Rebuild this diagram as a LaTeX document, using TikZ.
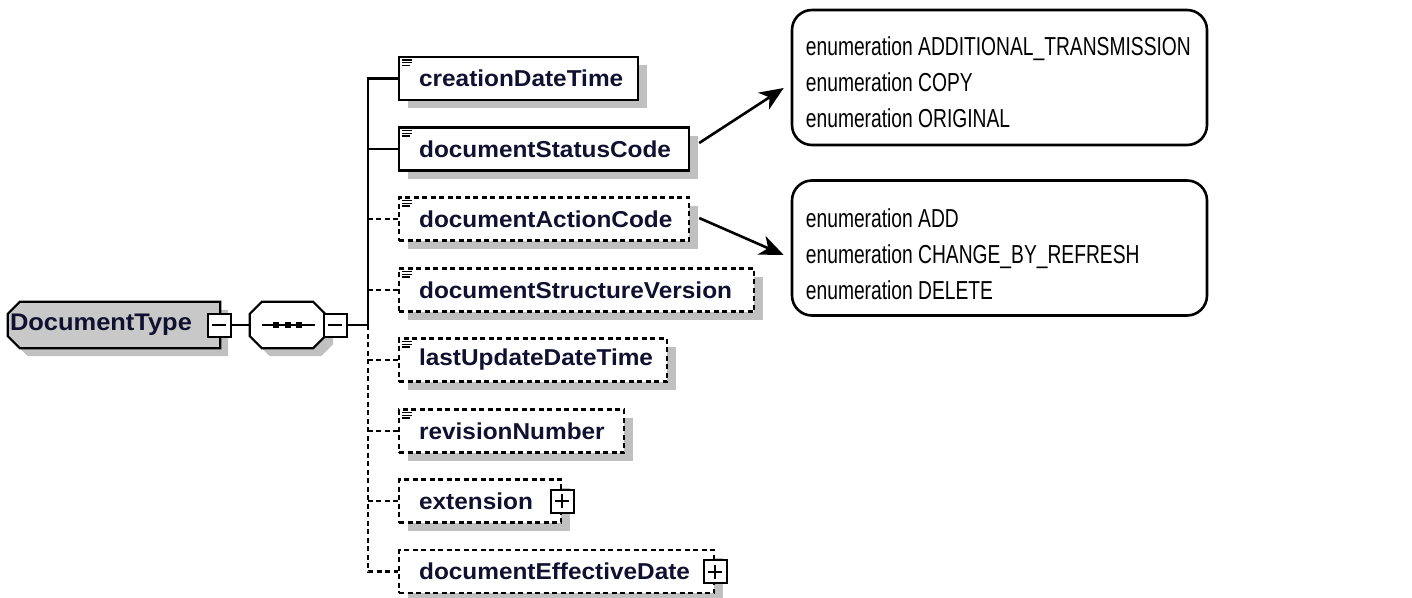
\documentclass[tikz,border=0pt]{standalone}
\usepackage{fontspec}
\usepackage{graphicx}
\setmainfont{Liberation Sans}
\newfontfamily\elfont[FakeStretch=1.06]{Liberation Sans}
\newfontfamily\enfont[FakeStretch=0.74]{Liberation Sans}
\usetikzlibrary{calc,shadows,arrows.meta}
\definecolor{txt}{RGB}{16,16,48}
\definecolor{shd}{RGB}{192,192,192}
\definecolor{tfill}{RGB}{200,200,200}
\begin{document}
\begin{tikzpicture}[x=1pt,y=-1pt,
  conn/.style={line width=2.2pt},
  dconn/.style={line width=2.2pt, dash pattern=on 5pt off 3.5pt},
  elbox/.style={draw, line width=2.2pt, fill=white, anchor=west, minimum height=43pt,
    inner xsep=0pt, inner ysep=0pt, align=left,
    font=\elfont\bfseries\fontsize{23}{26}\selectfont, text=txt,
    drop shadow={shadow xshift=9pt, shadow yshift=-8pt, fill=shd, opacity=1}},
  optbox/.style={elbox, dash pattern=on 5pt off 3.5pt},
  pm/.style={draw, fill=white, line width=2pt, minimum width=23pt, minimum height=23pt, inner sep=0pt},
  enbox/.style={draw, line width=2.6pt, rounded corners=20pt, minimum width=415pt,
    minimum height=135pt, inner sep=0pt},
  entext/.style={anchor=west, align=left, inner sep=0pt, font=\enfont\fontsize{26}{36}\selectfont},
  arr/.style={line width=2.6pt, -{Stealth[length=24pt,width=20pt,inset=7pt]}},
  icon/.style={line width=1.3pt}
]
\useasboundingbox (0,0) rectangle (1412,597);

% ---------- DocumentType ----------
\node[minimum width=212pt, minimum height=46pt, inner sep=0pt] (dt) at (114,325) {};
\fill[shd] ($(dt.north west)+(20,8)$) -- ($(dt.north east)+(8,8)$) -- ($(dt.south east)+(8,8)$)
  -- ($(dt.south west)+(20,8)$) -- ($(dt.south west)+(8,-4)$) -- ($(dt.north west)+(8,20)$) -- cycle;
\draw[line width=2.2pt, fill=tfill] ($(dt.north west)+(12,0)$) -- (dt.north east) -- (dt.south east)
  -- ($(dt.south west)+(12,0)$) -- ($(dt.south west)+(0,-12)$) -- ($(dt.north west)+(0,12)$) -- cycle;
\node[font=\elfont\bfseries\fontsize{24}{26}\selectfont, text=txt, inner sep=0pt] (dtl) at (101,325) {DocumentType};

% ---------- sequence ----------
\node[minimum width=75pt, minimum height=46pt, inner sep=0pt] (seq) at (287.5,325) {};
\fill[shd] ($(seq.north west)+(20,8)$) -- ($(seq.north east)+(-4,8)$) -- ($(seq.north east)+(8,20)$)
  -- ($(seq.south east)+(8,-4)$) -- ($(seq.south east)+(-4,8)$) -- ($(seq.south west)+(20,8)$)
  -- ($(seq.south west)+(8,-4)$) -- ($(seq.north west)+(8,20)$) -- cycle;
\draw[line width=2.2pt, fill=white] ($(seq.north west)+(12,0)$) -- ($(seq.north east)+(-12,0)$)
  -- ($(seq.north east)+(0,12)$) -- ($(seq.south east)+(0,-12)$) -- ($(seq.south east)+(-12,0)$)
  -- ($(seq.south west)+(12,0)$) -- ($(seq.south west)+(0,-12)$) -- ($(seq.north west)+(0,12)$) -- cycle;
\draw[line width=2.2pt] ($(seq.west)+(12,0)$) -- ($(seq.east)+(-10,0)$);
\foreach \dx in {-11.5,0,11.5} \fill ($(seq.center)+(\dx-3,-3)$) rectangle +(6,6);

% ---------- minus boxes ----------
\node[pm] (m1) at (219,325) {};
\draw[line width=2pt] ($(m1.center)+(-7,0)$) -- ($(m1.center)+(7,0)$);
\node[pm] (m2) at (335,325) {};
\draw[line width=2pt] ($(m2.center)+(-7,0)$) -- ($(m2.center)+(7,0)$);
\coordinate (j) at (368,325);

% ---------- children ----------
\node[elbox, text width=239pt] (cdt) at (398,78.5) {\hspace*{20pt}creationDateTime};
\node[elbox, text width=290pt] (dsc) at (398,149) {\hspace*{20pt}documentStatusCode};
\node[optbox, text width=290pt] (dac) at (398,219) {\hspace*{20pt}documentActionCode};
\node[optbox, text width=355pt] (dsv) at (398,290) {\hspace*{20pt}documentStructureVersion};
\node[optbox, text width=268pt] (ludt) at (398,360) {\hspace*{20pt}lastUpdateDateTime};
\node[optbox, text width=225pt] (rn) at (398,431) {\hspace*{20pt}revisionNumber};
\node[optbox, text width=162pt] (ext) at (398,501) {\hspace*{20pt}extension};
\node[optbox, text width=315pt] (ded) at (398,571.5) {\hspace*{20pt}documentEffectiveDate};

\foreach \n in {cdt,dsc,dac,dsv,ludt,rn} {
  \draw[icon] ($(\n.north west)+(4,4)$) -- +(10,0);
  \draw[icon] ($(\n.north west)+(4,6.8)$) -- +(10,0);
  \draw[icon] ($(\n.north west)+(4,9.6)$) -- +(8,0);
}

% plus boxes
\node[pm] (extp) at (ext.east) {};
\draw[line width=2pt] ($(extp.center)+(-7,0)$) -- ($(extp.center)+(7,0)$);
\draw[line width=2pt] ($(extp.center)+(0,-7)$) -- ($(extp.center)+(0,7)$);
\node[pm] (dedp) at (ded.east) {};
\draw[line width=2pt] ($(dedp.center)+(-7,0)$) -- ($(dedp.center)+(7,0)$);
\draw[line width=2pt] ($(dedp.center)+(0,-7)$) -- ($(dedp.center)+(0,7)$);

% ---------- connectors ----------
\draw[conn] (m1.east) -- (seq.west);
\draw[conn] (m2.east) -- (j);
\draw[conn] (cdt.west) -| (j);
\draw[conn] (dsc.west) -- (dsc.west -| j);
\draw[dconn] (dac.west) -- (dac.west -| j);
\draw[dconn] (dsv.west) -- (dsv.west -| j);
\draw[dconn] (j) |- (ded.west);
\draw[dconn] (ludt.west) -- (ludt.west -| j);
\draw[dconn] (rn.west) -- (rn.west -| j);
\draw[dconn] (ext.west) -- (ext.west -| j);

% ---------- enumerations ----------
\node[enbox] (e1) at (999.5,77.5) {};
\node[entext] (e1t) at ($(e1.west)+(15,4.5)$) {enumeration ADDITIONAL\_TRANSMISSION\\enumeration COPY\\enumeration ORIGINAL};
\node[enbox] (e2) at (999.5,248) {};
\node[entext] (e2t) at ($(e2.west)+(15,6)$) {enumeration ADD\\enumeration CHANGE\_BY\_REFRESH\\enumeration DELETE};

\draw[arr] ($(dsc.east)+(9,-6)$) -- ($(e1.west)+(-7,10.5)$);
\draw[arr] ($(dac.east)+(9,-1)$) -- ($(e2.west)+(-7,7)$);
\end{tikzpicture}
\end{document}
